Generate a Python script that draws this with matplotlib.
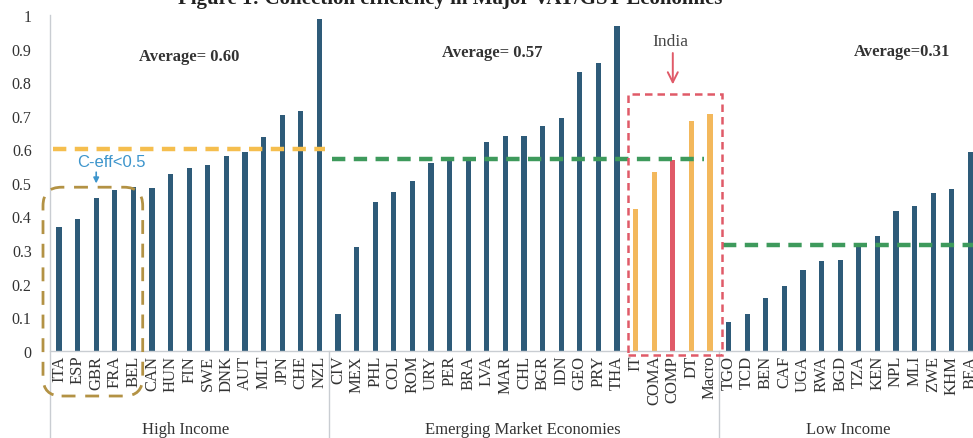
import matplotlib
matplotlib.use("Agg")
import matplotlib.pyplot as plt
from matplotlib.patches import FancyBboxPatch, Rectangle
from matplotlib.lines import Line2D
import matplotlib.transforms as mtransforms

# ---------------- data ----------------
high_income = ["ITA", "ESP", "GBR", "FRA", "BEL", "CAN", "HUN", "FIN", "SWE", "DNK",
               "AUT", "MLT", "JPN", "CHE", "NZL"]
high_vals = [0.367, 0.392, 0.455, 0.480, 0.487, 0.485, 0.526, 0.544, 0.554, 0.581,
             0.593, 0.636, 0.702, 0.715, 0.988]

emerging = ["CIV", "MEX", "PHL", "COL", "ROM", "URY", "PER", "BRA", "LVA", "MAR",
            "CHL", "BGR", "IDN", "GEO", "PRY", "THA"]
emerging_vals = [0.109, 0.310, 0.444, 0.474, 0.506, 0.559, 0.567, 0.573, 0.621, 0.639,
                 0.639, 0.670, 0.693, 0.829, 0.857, 0.966]

india = ["IT", "COMA", "COMP", "DT", "Macro"]
india_vals = [0.422, 0.533, 0.568, 0.685, 0.705]

low_income = ["TGO", "TCD", "BEN", "CAF", "UGA", "RWA", "BGD", "TZA", "KEN", "NPL",
              "MLI", "ZWE", "KHM", "BEA"]
low_vals = [0.086, 0.109, 0.157, 0.194, 0.241, 0.268, 0.271, 0.315, 0.343, 0.417,
            0.430, 0.469, 0.482, 0.591]

averages = [0.60, 0.57, 0.31]
group_names = ["High Income", "Emerging Market Economies", "Low Income"]
title = "Figure 1: Collection efficiency in Major VAT/GST Economies"

# ---------------- styling ----------------
BAR = "#2E5B79"
ORANGE = "#F3B85C"
RED = "#E05A68"
GREEN = "#3E9A5C"
AVG_ORANGE = "#F5BE4E"
GOLD = "#B39244"
BLUE = "#3D95CC"
SEP = "#C9CDD2"
SERIF = ["Liberation Serif", "DejaVu Serif"]

labels = high_income + emerging + india + low_income
values = high_vals + emerging_vals + india_vals + low_vals
colors = ([BAR] * len(high_income) + [BAR] * len(emerging) +
          [ORANGE, ORANGE, RED, ORANGE, ORANGE] + [BAR] * len(low_income))
n = len(labels)
x = list(range(n))

W, H = 973, 439
fig = plt.figure(figsize=(W / 100, H / 100), dpi=100)
left_px, right_px = 49.7, 979.7
bottom_px, top_px = 87.3, 423.0
ax = fig.add_axes([left_px / W, bottom_px / H, (right_px - left_px) / W,
                   (top_px - bottom_px) / H])

ax.bar(x, values, width=0.28, color=colors, zorder=2)
ax.set_xlim(-0.5, n - 0.5)
ax.set_ylim(0, 1)

for s in ["top", "right", "left"]:
    ax.spines[s].set_visible(False)
ax.spines["bottom"].set_color(SEP)
ax.spines["bottom"].set_linewidth(1.0)

ax.set_yticks([i / 10 for i in range(11)])
ax.set_yticklabels(["0"] + [f"{i/10:.1f}" for i in range(1, 10)] + ["1"],
                   fontfamily=SERIF, fontsize=11.5, color="#333333")
ax.tick_params(axis="y", length=0, pad=13)
ax.set_xticks(x)
ax.set_xticklabels(labels, rotation=90, fontfamily=SERIF, fontsize=12,
                   color="#333333", va="top")
ax.tick_params(axis="x", length=0, pad=3)

# separators / y axis line
tr = mtransforms.blended_transform_factory(ax.transData, ax.transAxes)
ybot = -bottom_px / (top_px - bottom_px)
ax.add_line(Line2D([-0.5, -0.5], [ybot, 1.0], transform=tr, color=SEP, lw=1.0,
                   clip_on=False))
n1 = len(high_income)
n2 = n1 + len(emerging) + len(india)
for b in [n1 - 0.5, n2 - 0.5]:
    ax.add_line(Line2D([b, b], [ybot, 0], transform=tr, color=SEP, lw=1.0,
                       clip_on=False))

# average lines
ax.plot([-0.3, 14.3], [averages[0]] * 2, color=AVG_ORANGE, lw=3.2,
        dashes=[3.0, 1.9], zorder=3, solid_capstyle="butt")
ax.plot([14.7, 34.7], [averages[1]] * 2, color=GREEN, lw=3.2,
        dashes=[3.0, 1.9], zorder=3)
ax.plot([35.7, 49.5], [averages[2] + 0.005] * 2, color=GREEN, lw=3.2,
        dashes=[3.0, 1.9], zorder=3)

ax.text(7.0, 0.877, "Average= 0.60", fontfamily=SERIF, fontweight="bold",
        fontsize=12, ha="center", va="center", color="#333333")
ax.text(23.3, 0.889, "Average= 0.57", fontfamily=SERIF, fontweight="bold",
        fontsize=12, ha="center", va="center", color="#333333")
ax.text(45.3, 0.892, "Average=0.31", fontfamily=SERIF, fontweight="bold",
        fontsize=12, ha="center", va="center", color="#333333")

# India box and arrow
ax.add_patch(Rectangle((30.6, -0.013), 5.05, 0.778, fill=False, edgecolor=RED,
                       lw=1.8, linestyle=(0, (3, 2)), clip_on=False, zorder=4))
ax.text(32.85, 0.922, "India", fontfamily=SERIF, fontsize=12.5, ha="center",
        va="center", color="#444444")
ax.annotate("", xy=(33.0, 0.785), xytext=(33.0, 0.895),
            arrowprops=dict(arrowstyle="->", color=RED, lw=1.4,
                            mutation_scale=18))

# C-eff box and arrow
ax.add_patch(FancyBboxPatch((-0.86, -0.135), 5.36, 0.622,
                            boxstyle="round,pad=0,rounding_size=1.0",
                            mutation_aspect=18.6 / 335.7,
                            fill=False, edgecolor=GOLD, lw=2.0,
                            linestyle=(0, (5, 3.5)), clip_on=False, zorder=4))
ax.text(2.8, 0.563, "C-eff<0.5", fontfamily=["Liberation Sans", "DejaVu Sans"],
        fontsize=12, ha="center", va="center", color=BLUE)
ax.annotate("", xy=(2.0, 0.49), xytext=(2.0, 0.54),
            arrowprops=dict(arrowstyle="-|>", color=BLUE, lw=1.2,
                            mutation_scale=8))

# group labels
gy = (H - 430) / H
for name, px in zip(group_names, [186, 523, 848]):
    fig.text(px / W, gy, name, fontfamily=SERIF, fontsize=12, ha="center",
             va="center", color="#333333")

# (cropped) title, only its lower part visible as in the reference
fig.text(450 / W, 1 - 4 / H, title, fontfamily=SERIF, fontweight="bold",
         fontsize=15, ha="center", va="baseline", color="#222222")

fig.savefig("out.png", dpi=100)
